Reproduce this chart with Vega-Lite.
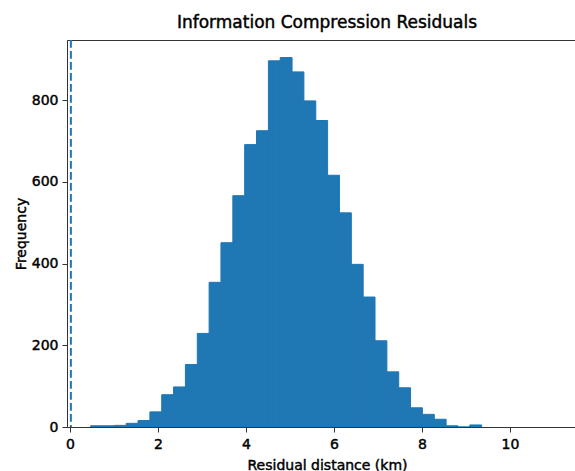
{
  "$schema": "https://vega.github.io/schema/vega-lite/v6.json",
  "autosize": {"type": "none"},
  "padding": {"left": 67, "top": 40, "right": 0, "bottom": 44},
  "width": 520,
  "height": 387,
  "background": "white",
  "title": {
    "text": "Information Compression Residuals",
    "font": "DejaVu Sans",
    "fontSize": 17,
    "fontWeight": "normal",
    "color": "black",
    "anchor": "middle",
    "frame": "group",
    "offset": 7
  },
  "config": {
    "view": {"stroke": "#333", "strokeWidth": 1},
    "style": {
      "group-title": {"stroke": "black", "strokeWidth": 0.45},
      "guide-label": {"stroke": "black", "strokeWidth": 0.45},
      "guide-title": {"stroke": "black", "strokeWidth": 0.45}
    },
    "axis": {
      "grid": false,
      "labelFont": "DejaVu Sans",
      "labelFontSize": 14,
      "labelFontWeight": "normal",
      "labelColor": "black",
      "titleFont": "DejaVu Sans",
      "titleFontSize": 14,
      "titleFontWeight": "normal",
      "titleColor": "black",
      "domainColor": "#333",
      "tickColor": "#333",
      "tickSize": 5
    }
  },
  "layer": [
    {
      "data": {
        "values": [
          {"bin_start": 0.469, "bin_end": 0.738, "count": 3},
          {"bin_start": 0.738, "bin_end": 1.008, "count": 3},
          {"bin_start": 1.008, "bin_end": 1.277, "count": 4},
          {"bin_start": 1.277, "bin_end": 1.546, "count": 9},
          {"bin_start": 1.546, "bin_end": 1.816, "count": 16},
          {"bin_start": 1.816, "bin_end": 2.085, "count": 37},
          {"bin_start": 2.085, "bin_end": 2.354, "count": 79},
          {"bin_start": 2.354, "bin_end": 2.623, "count": 98},
          {"bin_start": 2.623, "bin_end": 2.893, "count": 153},
          {"bin_start": 2.893, "bin_end": 3.162, "count": 229},
          {"bin_start": 3.162, "bin_end": 3.431, "count": 354},
          {"bin_start": 3.431, "bin_end": 3.701, "count": 451},
          {"bin_start": 3.701, "bin_end": 3.970, "count": 566},
          {"bin_start": 3.970, "bin_end": 4.239, "count": 691},
          {"bin_start": 4.239, "bin_end": 4.509, "count": 725},
          {"bin_start": 4.509, "bin_end": 4.778, "count": 896},
          {"bin_start": 4.778, "bin_end": 5.047, "count": 904},
          {"bin_start": 5.047, "bin_end": 5.316, "count": 869},
          {"bin_start": 5.316, "bin_end": 5.586, "count": 798},
          {"bin_start": 5.586, "bin_end": 5.855, "count": 750},
          {"bin_start": 5.855, "bin_end": 6.124, "count": 616},
          {"bin_start": 6.124, "bin_end": 6.394, "count": 524},
          {"bin_start": 6.394, "bin_end": 6.663, "count": 398},
          {"bin_start": 6.663, "bin_end": 6.932, "count": 318},
          {"bin_start": 6.932, "bin_end": 7.202, "count": 211},
          {"bin_start": 7.202, "bin_end": 7.471, "count": 135},
          {"bin_start": 7.471, "bin_end": 7.740, "count": 96},
          {"bin_start": 7.740, "bin_end": 8.009, "count": 47},
          {"bin_start": 8.009, "bin_end": 8.279, "count": 31},
          {"bin_start": 8.279, "bin_end": 8.548, "count": 19},
          {"bin_start": 8.548, "bin_end": 8.817, "count": 3},
          {"bin_start": 8.817, "bin_end": 9.087, "count": 0},
          {"bin_start": 9.087, "bin_end": 9.356, "count": 5}
        ]
      },
      "mark": {"type": "bar", "color": "#1f77b4", "stroke": "#1f77b4", "strokeWidth": 1, "clip": true},
      "encoding": {
        "x": {
          "field": "bin_start",
          "type": "quantitative",
          "scale": {"domain": [-0.068, 11.75], "nice": false, "zero": false},
          "axis": {
            "title": "Residual distance (km)",
            "values": [0, 2, 4, 6, 8, 10],
            "format": "d",
            "labelPadding": 5,
            "titleY": 42,
            "titleX": 260,
            "titleBaseline": "alphabetic"
          }
        },
        "x2": {"field": "bin_end"},
        "y": {
          "field": "count",
          "type": "quantitative",
          "scale": {"domain": [0, 947], "nice": false},
          "axis": {
            "title": "Frequency",
            "values": [0, 200, 400, 600, 800],
            "labelPadding": 4,
            "titleX": -42,
            "titleBaseline": "alphabetic"
          }
        },
        "y2": {"datum": 0}
      }
    },
    {
      "data": {"values": [{"x": 0.02}]},
      "mark": {"type": "rule", "color": "#1f77b4", "strokeWidth": 2, "strokeDash": [7.7, 3.3]},
      "encoding": {
        "x": {"field": "x", "type": "quantitative"}
      }
    }
  ]
}
